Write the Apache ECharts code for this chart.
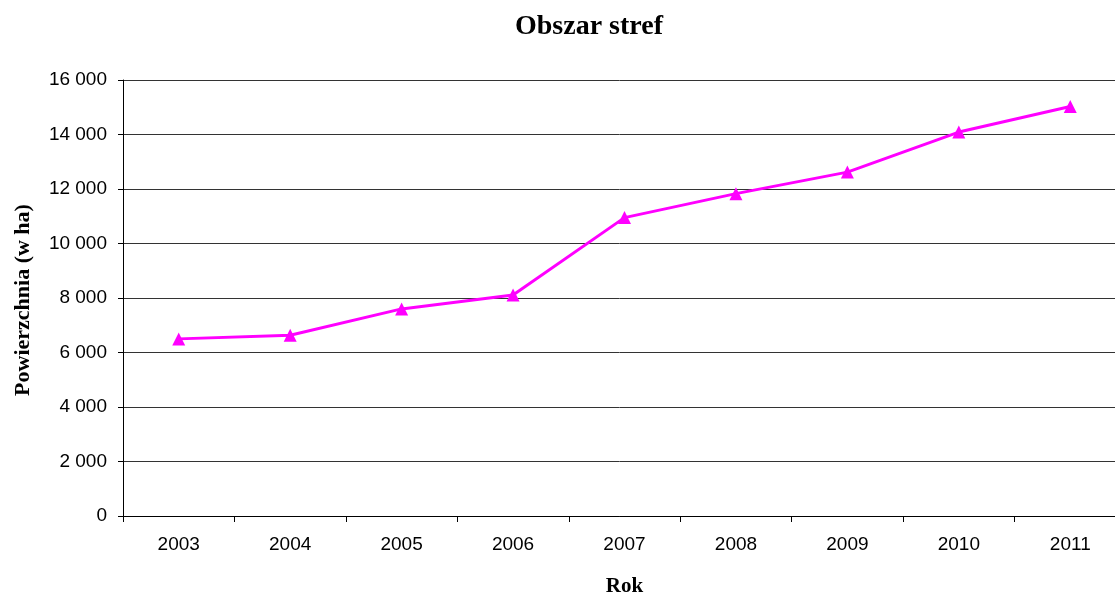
<!DOCTYPE html>
<html>
<head>
<meta charset="utf-8">
<script src="https://cdn.jsdelivr.net/npm/echarts@6/dist/echarts.min.js"></script>
<style>
  html, body { margin: 0; padding: 0; background: #fff; }
  #container { width: 1115px; height: 592px; }
</style>
</head>
<body>
<div id="container"></div>
<script>
    var years = ['2003', '2004', '2005', '2006', '2007', '2008', '2009', '2010', '2011'];
    var area = [6500, 6630, 7600, 8110, 10950, 11830, 12620, 14090, 15030];

    var dom = document.getElementById("container");
    var myChart = echarts.init(dom);

    // 16000 -> "16 000"
    function fmt(v) {
        return String(v).replace(/\B(?=(\d{3})+(?!\d))/g, ' ');
    }

    var option = {
        animation: false,
        title: {
            text: 'Obszar stref',
            left: 584,
            textAlign: 'center',
            top: 8,
            textStyle: { fontFamily: 'Liberation Serif', fontSize: 28, fontWeight: 'bold', color: '#000' }
        },
        grid: { left: 123, right: -11, top: 80, bottom: 76, containLabel: false, outerBoundsMode: 'none' },
        xAxis: {
            type: 'category',
            data: years,
            name: 'Rok',
            nameLocation: 'middle',
            nameGap: 60,
            nameTextStyle: { fontFamily: 'Liberation Serif', fontSize: 21, fontWeight: 'bold', color: '#000' },
            axisLine: { lineStyle: { color: '#000', width: 1 } },
            axisTick: { show: true, length: 6, lineStyle: { color: '#000' } },
            axisLabel: { fontFamily: 'Liberation Sans', fontSize: 19, color: '#000', margin: 19 }
        },
        yAxis: {
            type: 'value',
            min: 0,
            max: 16000,
            interval: 2000,
            name: 'Powierzchnia (w ha)',
            nameLocation: 'middle',
            nameGap: 89,
            nameTextStyle: { fontFamily: 'Liberation Serif', fontSize: 22, fontWeight: 'bold', color: '#000', padding: [0, 4, 0, 0] },
            axisLine: { show: true, lineStyle: { color: '#000', width: 1 } },
            axisTick: { show: true, length: 5, lineStyle: { color: '#000' } },
            axisLabel: { fontFamily: 'Liberation Sans', fontSize: 19, color: '#000', margin: 16, formatter: fmt },
            splitLine: { lineStyle: { color: '#333', width: 1 } }
        },
        series: [{
            type: 'line',
            data: area,
            color: '#ff00ff',
            lineStyle: { width: 3, color: '#ff00ff' },
            symbol: 'triangle',
            symbolSize: 13,
            itemStyle: { color: '#ff00ff' }
        }]
    };
    myChart.setOption(option, true);
</script>
</body>
</html>
